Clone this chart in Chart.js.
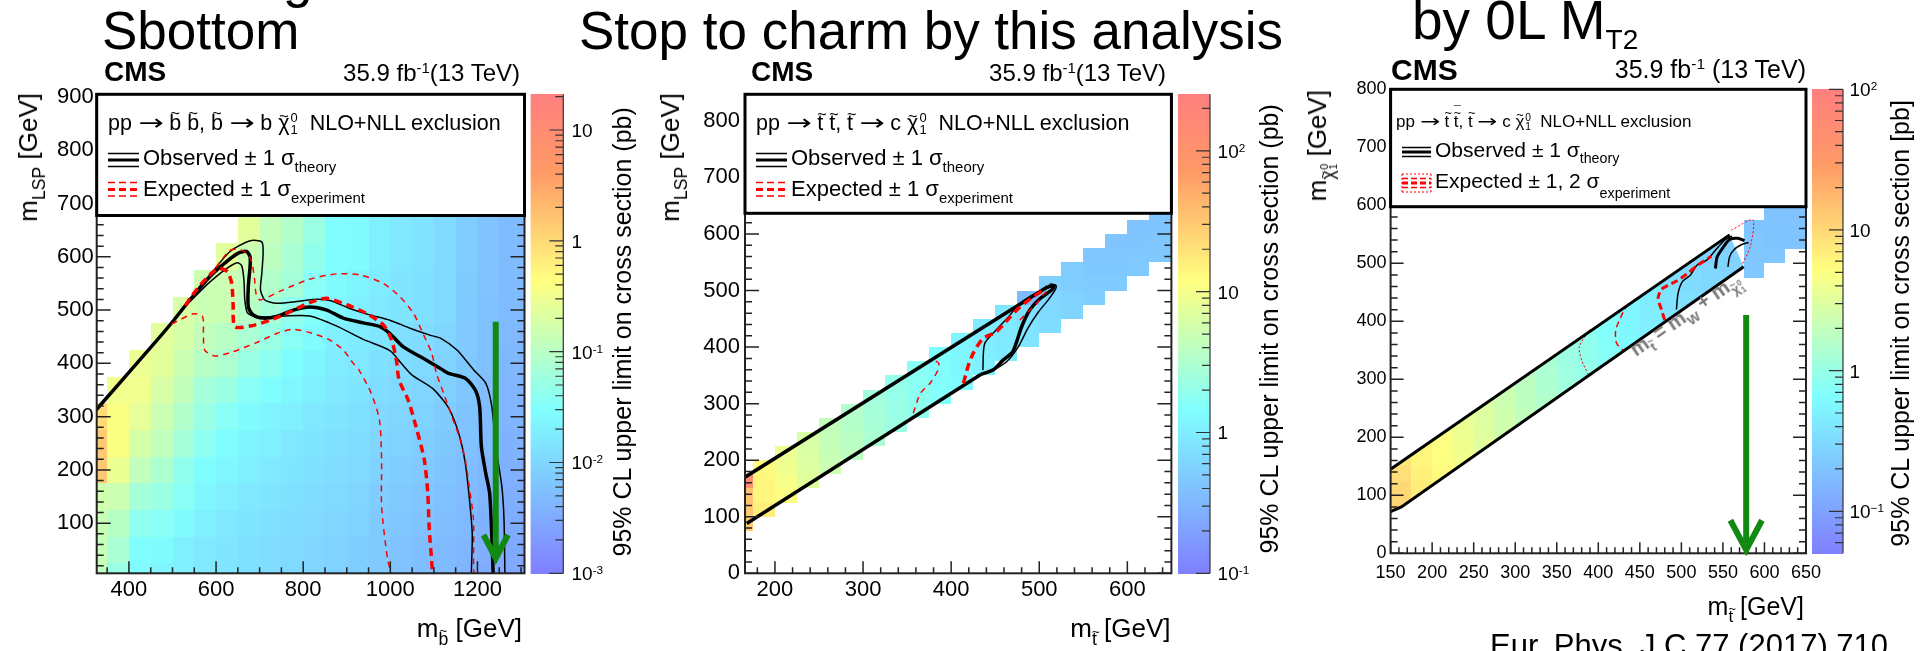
<!DOCTYPE html>
<html>
<head>
<meta charset="utf-8">
<title>Sbottom / stop to charm exclusion limits</title>
<script src="https://cdn.jsdelivr.net/npm/chart.js@4.4.1/dist/chart.umd.min.js"></script>
<style>
  html, body { margin: 0; padding: 0; background: #fff; }
  body { position: relative; width: 1927px; height: 651px; overflow: hidden; font-family: 'Liberation Sans', Arial, Helvetica, sans-serif; }
  canvas { position: absolute; top: 0; }
  .t { position: absolute; white-space: nowrap; line-height: 1; color: #000; }
  .t sub { font-size: 0.68em; vertical-align: -0.45em; line-height: 0; }
  .t sup { font-size: 0.62em; vertical-align: 0.55em; line-height: 0; }
  .t sub.lo { vertical-align: -0.7em; }
  .t sub.big { font-size: 0.51em; vertical-align: -0.36em; }
  .ss { display: inline-block; font-size: 0.6em; line-height: 0.9; vertical-align: -0.3em; margin-left: 0.08em; }
  .ss > span { display: block; }
  .tl { position: relative; display: inline-block; line-height: 1; }
  .tl > i { position: absolute; left: 0; right: 0; text-align: center; font-style: normal; font-size: 0.75em; }
  .tb > i { top: -0.51em; }
  .tt > i { top: -0.45em; }
  .tx > i { top: -0.29em; }
  .tl > i.bar { top: -0.62em; }
  .ar { font-family: 'DejaVu Sans', sans-serif; display: inline-block; transform: scaleX(1.4); margin: 0 0.17em; }
</style>
</head>
<body>
<canvas id="c1" width="660" height="651" style="left:0px"></canvas>
<canvas id="c2" width="640" height="651" style="left:660px"></canvas>
<canvas id="c3" width="627" height="651" style="left:1300px"></canvas>
<script>
const FONT = "'Liberation Sans', Arial, Helvetica, sans-serif";

// ---------- left: sbottom -> b chi10 ----------
const SB_MSB = [300, 350, 400, 450, 500, 550, 600, 650, 700, 750, 800, 850, 900, 950, 1000, 1050, 1100, 1150, 1200, 1250, 1300];
const SB_MLSP = [-25, 25, 75, 125, 175, 225, 275, 325, 375, 425, 475, 525, 575, 625];
const SB_XSEC = [
  [0.12, 0.13, 0.14, 0.16, 1.5, 1.5, 1.0],
  [0.053, 0.072, 0.097, 0.145, 0.29, 0.39, 0.39, 0.32],
  [0.027, 0.029, 0.040, 0.065, 0.12, 0.18, 0.26, 0.32, 0.29],
  [0.022, 0.027, 0.036, 0.053, 0.079, 0.12, 0.145, 0.19, 0.24, 0.24],
  [0.020, 0.020, 0.027, 0.036, 0.044, 0.065, 0.088, 0.12, 0.145, 0.18, 0.19],
  [0.016, 0.016, 0.020, 0.024, 0.029, 0.040, 0.053, 0.065, 0.097, 0.12, 0.145, 0.145],
  [0.015, 0.015, 0.016, 0.020, 0.024, 0.029, 0.036, 0.053, 0.079, 0.097, 0.145, 0.145, 0.24],
  [0.013, 0.013, 0.015, 0.016, 0.020, 0.022, 0.027, 0.036, 0.053, 0.072, 0.097, 0.12, 0.145, 0.24],
  [0.012, 0.012, 0.013, 0.015, 0.016, 0.020, 0.022, 0.029, 0.040, 0.053, 0.065, 0.088, 0.11, 0.12],
  [0.011, 0.011, 0.012, 0.013, 0.015, 0.016, 0.020, 0.024, 0.029, 0.036, 0.044, 0.065, 0.072, 0.088],
  [0.0099, 0.0099, 0.011, 0.012, 0.013, 0.015, 0.016, 0.020, 0.022, 0.027, 0.033, 0.036, 0.044, 0.053],
  [0.0089, 0.0089, 0.0099, 0.011, 0.012, 0.013, 0.015, 0.016, 0.018, 0.020, 0.024, 0.027, 0.029, 0.029],
  [0.0081, 0.0081, 0.0089, 0.0099, 0.011, 0.012, 0.013, 0.015, 0.016, 0.018, 0.020, 0.022, 0.027, 0.027],
  [0.0073, 0.0073, 0.0073, 0.0081, 0.0089, 0.0099, 0.011, 0.012, 0.013, 0.015, 0.016, 0.018, 0.020, 0.020],
  [0.0060, 0.0060, 0.0066, 0.0073, 0.0081, 0.0089, 0.0099, 0.011, 0.012, 0.013, 0.015, 0.015, 0.016, 0.016],
  [0.0054, 0.0054, 0.0060, 0.0066, 0.0073, 0.0081, 0.0089, 0.0099, 0.011, 0.012, 0.013, 0.013, 0.014, 0.014],
  [0.0047, 0.0048, 0.0052, 0.0058, 0.0064, 0.0070, 0.0077, 0.0085, 0.0093, 0.010, 0.011, 0.011, 0.011, 0.011],
  [0.0040, 0.0042, 0.0046, 0.0050, 0.0054, 0.0058, 0.0062, 0.0066, 0.0070, 0.0073, 0.0075, 0.0077, 0.0078, 0.0078],
  [0.0033, 0.0035, 0.0038, 0.0041, 0.0044, 0.0047, 0.0050, 0.0053, 0.0056, 0.0058, 0.0059, 0.0060, 0.0060, 0.0060],
  [0.0030, 0.0031, 0.0033, 0.0035, 0.0037, 0.0039, 0.0041, 0.0043, 0.0045, 0.0046, 0.0047, 0.0048, 0.0049, 0.0049],
  [0.0027, 0.0028, 0.0030, 0.0032, 0.0034, 0.0036, 0.0038, 0.0040, 0.0042, 0.0043, 0.0044, 0.0045, 0.0046, 0.0046]
];
const SB_X_TICKS = [400, 600, 800, 1000, 1200];
const SB_Y_TICKS = [100, 200, 300, 400, 500, 600, 700, 800, 900];
const SB_Z_TICKS = [10, 1, 0.1, 0.01, 0.001];
const SB_Z_LABELS = ['10', '1', '10<sup>-1</sup>', '10<sup>-2</sup>', '10<sup>-3</sup>'];
const SB_OBS = [[325, 313], [448, 428], [494, 472], [540, 519], [586, 563], [624, 591], [651, 607], [670, 610], [678, 600], [678, 581], [674, 544], [674, 506], [685, 491], [708, 485], [739, 488], [777, 500], [815, 506], [854, 500], [892, 485], [938, 476], [976, 469], [999, 456], [1030, 431], [1083, 406], [1114, 391], [1134, 381], [1172, 372], [1195, 350], [1205, 319], [1209, 244], [1219, 194], [1228, 156], [1233, 75], [1236, 6]];
const SB_OBS_UP = [[560, 542], [586, 566], [632, 610], [678, 630], [705, 628], [708, 607], [705, 569], [702, 538], [712, 519], [739, 513], [785, 516], [823, 520], [861, 518], [907, 503], [953, 491], [999, 481], [1045, 466], [1091, 453], [1116, 447], [1153, 425], [1191, 388], [1219, 363], [1233, 319], [1242, 244], [1256, 169], [1261, 106], [1263, 6]];
const SB_OBS_DN = [[540, 516], [586, 553], [624, 578], [649, 589], [659, 583], [664, 556], [666, 519], [672, 495], [693, 487], [754, 489], [815, 489], [877, 470], [938, 445], [999, 424], [1025, 400], [1050, 378], [1097, 353], [1134, 316], [1158, 266], [1172, 213], [1181, 150], [1188, 81], [1186, 6]];
const SB_EXP = [[530, 508], [540, 522], [578, 560], [605, 578], [626, 572], [636, 550], [639, 513], [643, 469], [678, 470], [724, 481], [770, 497], [815, 514], [854, 522], [900, 510], [945, 494], [984, 472], [1003, 444], [1014, 406], [1020, 369], [1041, 331], [1059, 281], [1078, 219], [1086, 156], [1089, 94], [1097, 6]];
const SB_EXP_UP = [[585, 563], [632, 612], [660, 612], [680, 595], [688, 560], [692, 530], [701, 519], [754, 538], [815, 558], [877, 568], [930, 566], [984, 550], [1022, 525], [1053, 494], [1075, 456], [1095, 419], [1106, 381], [1125, 338], [1144, 294], [1158, 263], [1172, 219], [1181, 169], [1191, 106], [1191, 31], [1192, 6]];
const SB_EXP_DN = [[498, 474], [548, 493], [569, 488], [571, 456], [574, 425], [597, 414], [639, 422], [693, 439], [739, 456], [777, 464], [823, 456], [861, 444], [892, 425], [915, 400], [928, 388], [956, 344], [975, 294], [980, 219], [980, 131], [994, 31], [1003, 6]];

// ---------- middle: stop -> c chi10 (this analysis) ----------
const ST_MSTOP = [150, 175, 200, 225, 250, 275, 300, 325, 350, 375, 400, 425, 450, 475, 500, 525, 550, 575, 600, 625];
const ST_DM = [75, 50, 25, 0];
const ST_XSEC = [
  [30, 32, 35, 130], [16, 14, 14, 13], [11, 10, 9, 8.5], [7, 6.8, 6.5, 6.2], [5, 4.8, 4.6, 4.4],
  [3.9, 3.7, 3.5, 3.4], [3.0, 2.8, 2.7, 2.6], [2.3, 2.2, 2.1, 2.0], [1.9, 1.8, 1.75, 1.7], [1.55, 1.5, 1.45, 1.4],
  [1.3, 1.25, 1.2, 1.15], [1.1, 1.05, 1.0, 0.95], [0.95, 0.9, 0.88, 0.85], [0.85, 0.8, 0.75, 0.35], [0.7, 0.66, 0.62, 0.55],
  [0.6, 0.56, 0.52, 0.5], [0.5, 0.48, 0.46, 0.45], [0.48, 0.46, 0.44, 0.43], [0.47, 0.45, 0.43, 0.42], [0.46, 0.44, 0.42, 0.41]
];
const ST_X_TICKS = [200, 300, 400, 500, 600];
const ST_Y_TICKS = [0, 100, 200, 300, 400, 500, 600, 700, 800];
const ST_Z_TICKS = [100, 10, 1, 0.1];
const ST_Z_LABELS = ['10<sup>2</sup>', '10', '1', '10<sup>-1</sup>'];
const ST_UP = [[166, 170], [510, 507]];
const ST_LO = [[168, 88], [434, 352]];
const ST_OBS = [[510, 507], [517, 509], [514, 501], [501, 486], [489, 465], [480, 436], [470, 392], [459, 377], [448, 360], [434, 352]];
const ST_OBS_A = [[436, 359], [438, 406], [451, 430], [465, 453], [474, 471], [489, 489], [506, 502], [516, 508]];
const ST_OBS_B = [[451, 362], [463, 374], [476, 400], [487, 433], [499, 462], [510, 483], [518, 501], [519, 509], [512, 512]];
const ST_EXP = [[414, 336], [419, 365], [425, 389], [436, 415], [451, 427], [467, 453], [478, 471], [493, 489], [506, 502]];
const ST_EXP_A = [[357, 283], [365, 318], [376, 336], [385, 359], [386, 371], [382, 376]];
const ST_EXP_B = [[478, 448], [487, 462], [497, 477], [506, 495], [512, 505]];

// ---------- right: stop -> c chi10 by 0L MT2 ----------
const MT_MSTOP = [150, 175, 200, 225, 250, 275, 300, 325, 350, 375, 400, 425, 450, 475, 500, 525, 550, 575, 600, 625];
const MT_DM = [100, 75, 50, 25, 0];
const MT_XSEC = [
  [10, 10, 10, 9, 8], [7, 7, 6.5, 6, 6], [5.5, 5.5, 5, 5, 4.8], [4.2, 4.2, 4, 3.8, 3.6], [3.3, 3.2, 3.1, 3, 2.9],
  [2.6, 2.5, 2.4, 2.3, 2.2], [2.0, 1.9, 1.8, 1.8, 1.7], [1.5, 1.5, 1.4, 1.4, 1.3], [1.2, 1.15, 1.1, 1.05, 1.0], [0.95, 0.92, 0.9, 0.88, 0.85],
  [0.78, 0.75, 0.72, 0.7, 0.68], [0.62, 0.6, 0.58, 0.56, 0.55], [0.5, 0.48, 0.47, 0.45, 0.44], [0.42, 0.4, 0.38, 0.37, 0.36], [0.36, 0.34, 0.33, 0.32, 0.31],
  [0.32, 0.3, 0.29, 0.28, 0.28], [0.3, 0.28, 0.27, 0.26, 0.26], [0.22, 0.21, 0.21, 0.2], [0.21, 0.2, 0.2, 0.2], [0.2, 0.2, 0.19, 0.19]
];
const MT_BAND_END = 575;
const MT_X_TICKS = [150, 200, 250, 300, 350, 400, 450, 500, 550, 600, 650];
const MT_Y_TICKS = [0, 100, 200, 300, 400, 500, 600, 700, 800];
const MT_Z_TICKS = [100, 10, 1, 0.1];
const MT_Z_LABELS = ['10<sup>2</sup>', '10', '1', '10<sup>\u22121</sup>'];
const MT_UP = [[150, 145], [558, 549]];
const MT_LO = [[150, 72], [163, 80], [575, 494]];
const MT_OBS = [[541, 491], [543, 511], [551, 529], [558, 541], [568, 543], [576, 539]];
const MT_OBS_A = [[494, 420], [496, 448], [501, 468], [511, 480], [519, 497], [531, 506], [543, 526], [553, 541], [561, 547]];
const MT_OBS_B = [[556, 494], [558, 511], [563, 523], [572, 532], [581, 536]];
const MT_EXP = [[480, 402], [476, 420], [472, 440], [476, 455], [484, 462], [495, 470], [506, 481], [520, 497], [536, 512]];
const MT_EXP_1 = [[436, 430], [430, 416], [421, 385], [422, 362], [430, 350]];
const MT_EXP_2A = [[390, 386], [377, 356], [380, 333], [388, 308]];
const MT_EXP_2B = [[560, 557], [586, 575], [583, 529], [573, 497]];

// CMS SUSY palette
const PAL_STOPS = [0, 0.34, 0.61, 0.84, 1];
const PAL_R = [0.5, 0.5, 1, 1, 1];
const PAL_G = [0.5, 1, 1, 0.6, 0.5];
const PAL_B = [1, 1, 0.5, 0.4, 0.5];
function palette(t) {
  t = Math.min(1, Math.max(0, t));
  let i = 0;
  while (i < PAL_STOPS.length - 2 && t > PAL_STOPS[i + 1]) i++;
  const f = (t - PAL_STOPS[i]) / (PAL_STOPS[i + 1] - PAL_STOPS[i]);
  const c = a => Math.round(255 * (a[i] + (a[i + 1] - a[i]) * f));
  return `rgb(${c(PAL_R)},${c(PAL_G)},${c(PAL_B)})`;
}
function zColor(z, v) {
  return palette((z.bottom - z.getPixelForValue(v)) / (z.bottom - z.top));
}

function sbCells() {
  const cells = [];
  SB_MSB.forEach((m, i) => SB_XSEC[i].forEach((v, j) =>
    cells.push({ x0: m, x1: m + 50, y0: SB_MLSP[j], y1: SB_MLSP[j] + 50, v })));
  return cells;
}
function stCells() {
  const cells = [];
  ST_MSTOP.forEach((m, i) => ST_XSEC[i].forEach((v, j) =>
    cells.push({ x0: m, x1: m + 25, y0: m - ST_DM[j], y1: m - ST_DM[j] + 25, v })));
  return cells;
}
function mtCells() {
  const cells = [];
  MT_MSTOP.forEach((m, i) => MT_XSEC[i].forEach((v, j) =>
    cells.push({ x0: m, x1: m + 25, y0: m - MT_DM[j], y1: m - MT_DM[j] + 25, v, clip: m < MT_BAND_END })));
  return cells;
}

const BLK = '#000', RED = '#ff0000';
const PANELS = [
  {
    id: 'c1', left: 0, pad: { left: 0, top: 94.3, right: 135.5, bottom: 0 }, yW: 96.7, xH: 77.7, tickFont: 22,
    x: { min: 326, max: 1308, major: SB_X_TICKS, minor: 50, pad: 3 },
    y: { min: 6, max: 905, major: SB_Y_TICKS, minor: 20, pad: 3 },
    len: { xMaj: 12, xMin: 6, yMaj: 14, yMin: 7 },
    z: { min: 0.001, max: 21, ticks: SB_Z_TICKS, labels: SB_Z_LABELS },
    cb: { gap: 6.1, width: 32.7, labelDx: 47 },
    legendBottom: 215.5,
    cells: sbCells(),
    lines: [
      { pts: SB_EXP_UP, color: RED, width: 1.5, dash: [6, 5] },
      { pts: SB_EXP_DN, color: RED, width: 1.5, dash: [6, 5] },
      { pts: SB_EXP, color: RED, width: 3.5, dash: [8, 5] },
      { pts: SB_OBS_UP, color: BLK, width: 1.5 },
      { pts: SB_OBS_DN, color: BLK, width: 1.5 },
      { pts: SB_OBS, color: BLK, width: 3.5 }
    ],
    sym: { x0: 108, x1: 139, lines: [[153.5, 1.5, BLK], [160, 3, BLK], [166.5, 1.5, BLK], [182.5, 1.5, RED, [7, 4]], [189.5, 3, RED, [7, 4]], [196, 1.5, RED, [7, 4]]] },
    arrow: { x: 1242, top: 478, tip: 34, wing: 78, half: 28, w: 6 }
  },
  {
    id: 'c2', left: 660, pad: { left: 0, top: 94.3, right: 128.6, bottom: 0 }, yW: 85, xH: 77.7, tickFont: 22,
    x: { min: 166, max: 650, major: ST_X_TICKS, minor: 20, pad: 3 },
    y: { min: 0, max: 847, major: ST_Y_TICKS, minor: 20, pad: 5 },
    len: { xMaj: 12, xMin: 6, yMaj: 14, yMin: 7 },
    z: { min: 0.1, max: 252, ticks: ST_Z_TICKS, labels: ST_Z_LABELS },
    cb: { gap: 6.6, width: 32, labelDx: 46.2 },
    legendBottom: 213.3,
    cells: stCells(),
    lines: [
      { pts: ST_EXP_A, color: RED, width: 1.5, dash: [6, 5] },
      { pts: ST_EXP_B, color: RED, width: 1.5, dash: [6, 5] },
      { pts: ST_EXP, color: RED, width: 3.5, dash: [8, 5] },
      { pts: ST_OBS_A, color: BLK, width: 1.5 },
      { pts: ST_OBS_B, color: BLK, width: 1.5 },
      { pts: ST_UP, color: BLK, width: 3.5, tension: 0 },
      { pts: ST_LO, color: BLK, width: 3.5, tension: 0 },
      { pts: ST_OBS, color: BLK, width: 3.5 }
    ],
    sym: { x0: 756, x1: 787, lines: [[153.5, 1.5, BLK], [160, 3, BLK], [166.5, 1.5, BLK], [182.5, 1.5, RED, [7, 4]], [189.5, 3, RED, [7, 4]], [196, 1.5, RED, [7, 4]]] }
  },
  {
    id: 'c3', left: 1300, pad: { left: 0, top: 89.3, right: 121, bottom: 0 }, yW: 90.6, xH: 97.7, tickFont: 18,
    x: { min: 150, max: 650, major: MT_X_TICKS, minor: 10, pad: 9 },
    y: { min: 0, max: 800, major: MT_Y_TICKS, minor: 20, pad: 4 },
    len: { xMaj: 11, xMin: 6, yMaj: 13, yMin: 7 },
    z: { min: 0.0503, max: 100, ticks: MT_Z_TICKS, labels: MT_Z_LABELS },
    cb: { gap: 6, width: 31, labelDx: 43.5 },
    legendBottom: 206.7,
    cells: mtCells(),
    band: MT_UP.concat(MT_LO.slice().reverse()),
    lines: [
      { pts: MT_UP, color: BLK, width: 3, tension: 0 },
      { pts: MT_LO, color: BLK, width: 3, tension: 0 },
      { pts: MT_UP, color: '#c00000', width: 1.2, tension: 0 },
      { pts: MT_LO, color: '#e00000', width: 1.2, dash: [2, 2], tension: 0 },
      { pts: MT_EXP_2A, color: RED, width: 1, dash: [2, 2] },
      { pts: MT_EXP_2B, color: RED, width: 1, dash: [2, 2] },
      { pts: MT_EXP_1, color: RED, width: 1.5, dash: [6, 4] },
      { pts: MT_EXP, color: RED, width: 3, dash: [7, 4] },
      { pts: MT_OBS_A, color: BLK, width: 1.5 },
      { pts: MT_OBS_B, color: BLK, width: 1.5 },
      { pts: MT_OBS, color: BLK, width: 3 }
    ],
    sym: { x0: 1402, x1: 1431, box: [174, 192], lines: [[147.5, 1.5, BLK], [152, 3, BLK], [156.5, 1.5, BLK], [174, 1, RED, [2, 2]], [192, 1, RED, [2, 2]], [178.5, 1.5, RED, [6, 3]], [183, 3, RED, [6, 3]], [187.5, 1.5, RED, [6, 3]]] },
    arrow: { x: 578, top: 411, tip: 6, wing: 57, half: 19, w: 6 }
  }
];

function makeHeatmap(p) {
  return {
    id: 'heatmap',
    beforeDatasetsDraw(chart) {
      const { ctx, chartArea: a } = chart;
      const { x, y, z } = chart.scales;
      ctx.save();
      ctx.beginPath();
      ctx.rect(a.left, a.top, a.width, a.height);
      ctx.clip();
      p.cells.forEach(c => {
        ctx.save();
        if (c.clip && p.band) {
          ctx.beginPath();
          p.band.forEach(([vx, vy], i) => {
            const px = x.getPixelForValue(vx), py = y.getPixelForValue(vy);
            if (i) ctx.lineTo(px, py); else ctx.moveTo(px, py);
          });
          ctx.closePath();
          ctx.clip();
        }
        const l = Math.round(x.getPixelForValue(c.x0)), r = Math.round(x.getPixelForValue(c.x1));
        const t = Math.round(y.getPixelForValue(c.y1)), b = Math.round(y.getPixelForValue(c.y0));
        ctx.fillStyle = zColor(z, c.v);
        ctx.fillRect(l, t, r - l, b - t);
        ctx.restore();
      });
      ctx.restore();
    }
  };
}

function makeDeco(p) {
  return {
    id: 'deco',
    afterDatasetsDraw(chart) {
      const { ctx, chartArea: a } = chart;
      const { x, y, z } = chart.scales;
      ctx.save();
      ctx.setLineDash([]);
      // frame
      ctx.strokeStyle = '#222';
      ctx.lineWidth = 2;
      ctx.strokeRect(a.left, a.top, a.width, a.height);
      // inward ticks, ROOT style
      ctx.lineWidth = 1.5;
      ctx.beginPath();
      for (let v = Math.ceil(p.x.min / p.x.minor) * p.x.minor; v <= p.x.max; v += p.x.minor) {
        const px = x.getPixelForValue(v), len = p.x.major.includes(v) ? p.len.xMaj : p.len.xMin;
        ctx.moveTo(px, a.bottom);
        ctx.lineTo(px, a.bottom - len);
      }
      for (let v = Math.ceil(p.y.min / p.y.minor) * p.y.minor; v <= p.y.max; v += p.y.minor) {
        const py = y.getPixelForValue(v), len = p.y.major.includes(v) ? p.len.yMaj : p.len.yMin;
        ctx.moveTo(a.left, py); ctx.lineTo(a.left + len, py);
        ctx.moveTo(a.right, py); ctx.lineTo(a.right - len, py);
      }
      ctx.stroke();

      // legend box
      const lb = p.legendBottom;
      ctx.fillStyle = '#fff';
      ctx.fillRect(a.left, a.top, a.width, lb - a.top);
      ctx.strokeStyle = '#000';
      ctx.lineWidth = 3;
      ctx.strokeRect(a.left, a.top, a.width, lb - a.top);
      const s = p.sym, sx0 = s.x0 - p.left, sx1 = s.x1 - p.left;
      s.lines.forEach(([ly, w, color, dash]) => {
        ctx.strokeStyle = color;
        ctx.lineWidth = w;
        ctx.setLineDash(dash || []);
        ctx.beginPath();
        ctx.moveTo(sx0, ly);
        ctx.lineTo(sx1, ly);
        ctx.stroke();
      });
      if (s.box) {
        ctx.strokeStyle = RED; ctx.lineWidth = 1; ctx.setLineDash([2, 2]);
        ctx.beginPath();
        ctx.moveTo(sx0, s.box[0]); ctx.lineTo(sx0, s.box[1]);
        ctx.moveTo(sx1, s.box[0]); ctx.lineTo(sx1, s.box[1]);
        ctx.stroke();
      }
      ctx.setLineDash([]);

      // green arrow
      if (p.arrow) {
        const ar = p.arrow;
        const ax = x.getPixelForValue(ar.x), top = y.getPixelForValue(ar.top), tip = y.getPixelForValue(ar.tip);
        const wy = y.getPixelForValue(ar.wing), wl = x.getPixelForValue(ar.x - ar.half), wr = x.getPixelForValue(ar.x + ar.half);
        ctx.strokeStyle = '#128a12';
        ctx.lineWidth = ar.w;
        ctx.lineJoin = 'miter';
        ctx.beginPath();
        ctx.moveTo(ax, top); ctx.lineTo(ax, tip - 3);
        ctx.moveTo(wl, wy); ctx.lineTo(ax, tip); ctx.lineTo(wr, wy);
        ctx.stroke();
      }

      // colour bar
      const cl = a.right + p.cb.gap, cw = p.cb.width, cr = cl + cw;
      for (let py = Math.floor(z.top); py < Math.ceil(z.bottom); py++) {
        ctx.fillStyle = zColor(z, z.getValueForPixel(py + 0.5));
        ctx.fillRect(cl, py, cw, 1);
      }
      ctx.strokeStyle = '#333';
      ctx.lineWidth = 1.2;
      ctx.beginPath();
      ctx.moveTo(cr, z.top); ctx.lineTo(cr, z.bottom);
      const e0 = Math.floor(Math.log10(p.z.min)), e1 = Math.ceil(Math.log10(p.z.max));
      for (let e = e0; e <= e1; e++) {
        for (let k = 1; k <= 9; k++) {
          const v = k * Math.pow(10, e);
          if (v < p.z.min * 0.999 || v > p.z.max) continue;
          const py = z.getPixelForValue(v);
          ctx.moveTo(cr, py);
          ctx.lineTo(cr - (k === 1 ? 14 : 8), py);
        }
      }
      ctx.stroke();
      ctx.restore();
    }
  };
}

function buildPanel(p) {
  const axis = (ax, horizontal) => ({
    type: 'linear', min: ax.min, max: ax.max,
    afterFit: s => { if (horizontal) s.height = p.xH; else s.width = p.yW; },
    afterBuildTicks: s => { s.ticks = ax.major.map(v => ({ value: v })); },
    grid: { display: false, drawTicks: false },
    border: { display: false },
    ticks: { autoSkip: false, maxRotation: 0, padding: ax.pad, color: '#000', font: { family: FONT, size: p.tickFont }, callback: v => String(v) }
  });
  return new Chart(document.getElementById(p.id), {
    type: 'scatter',
    data: {
      datasets: p.lines.map(l => ({
        data: l.pts.map(([x, y]) => ({ x, y })),
        showLine: true, pointRadius: 0, fill: false,
        borderColor: l.color, borderWidth: l.width, borderDash: l.dash || [],
        tension: l.tension === undefined ? 0.25 : l.tension
      }))
    },
    options: {
      responsive: false, animation: false, devicePixelRatio: 1,
      layout: { padding: p.pad },
      plugins: { legend: { display: false }, tooltip: { enabled: false } },
      scales: {
        x: axis(p.x, true),
        y: axis(p.y, false),
        z: { type: 'logarithmic', display: false, position: 'right', min: p.z.min, max: p.z.max }
      }
    },
    plugins: [makeHeatmap(p), makeDeco(p)]
  });
}

// text overlay; (x, y) is the baseline start (or end, with o.end)
function txt(html, x, y, size, o = {}) {
  const d = document.createElement('div');
  d.className = 't';
  d.innerHTML = html;
  const asc = 0.8465 * size;
  d.style.left = x + 'px';
  d.style.top = (y - asc) + 'px';
  d.style.fontSize = size + 'px';
  d.style.transformOrigin = `0 ${asc}px`;
  const tf = [];
  if (o.rot) tf.push(`rotate(${o.rot}deg)`);
  if (o.end) tf.push('translateX(-100%)');
  if (tf.length) d.style.transform = tf.join(' ');
  if (o.bold) d.style.fontWeight = 'bold';
  if (o.color) d.style.color = o.color;
  document.body.appendChild(d);
}

const charts = PANELS.map(buildPanel);

// colour bar labels from the z scales
PANELS.forEach((p, i) => {
  const ch = charts[i], z = ch.scales.z;
  p.z.labels.forEach((lab, k) => txt(lab, p.left + ch.chartArea.right + p.cb.labelDx, z.getPixelForValue(p.z.ticks[k]) + 7, 19));
});

const tl = (ch, cls) => `<span class="tl ${cls}">${ch}<i>~</i></span>`;
const bT = tl('b', 'tb'), tT = tl('t', 'tt'), chiT = tl('\u03c7', 'tx');
const tTbar = `<span class="tl tt">t<i>~</i><i class="bar">\u00af</i></span>`;
const CHI10 = chiT + '<span class="ss"><span>0</span><span>1</span></span>';
const AR = '<span class="ar">\u2192</span>';

// slide titles
txt('g', 283, -3, 53);
txt('Sbottom', 102, 49, 53);
txt('Stop to charm by this analysis', 579, 49, 53);
txt('by 0L M<sub class="big">T2</sub>', 1412, 40, 55);
txt('Eur. Phys. J.C 77 (2017) 710', 1490, 656, 31);

// CMS / lumi labels
txt('CMS', 104, 82, 28, { bold: true });
txt('35.9 fb<sup>-1</sup>(13 TeV)', 520, 81, 24, { end: true });
txt('CMS', 751, 82, 28, { bold: true });
txt('35.9 fb<sup>-1</sup>(13 TeV)', 1166, 81, 24, { end: true });
txt('CMS', 1391, 80, 30, { bold: true });
txt('35.9 fb<sup>-1</sup> (13 TeV)', 1806, 78, 25, { end: true });

// legends
txt(`pp ${AR} ${bT} ${bT}, ${bT} ${AR} b ${CHI10}&nbsp;&nbsp;NLO+NLL exclusion`, 108, 130, 21.5);
txt('Observed \u00b1 1 \u03c3<sub>theory</sub>', 143, 166, 22);
txt('Expected \u00b1 1 \u03c3<sub>experiment</sub>', 143, 197, 22);
txt(`pp ${AR} ${tT} ${tT}, ${tT} ${AR} c ${CHI10}&nbsp;&nbsp;NLO+NLL exclusion`, 756, 130, 21.5);
txt('Observed \u00b1 1 \u03c3<sub>theory</sub>', 791, 166, 22);
txt('Expected \u00b1 1 \u03c3<sub>experiment</sub>', 791, 197, 22);
txt(`pp ${AR} ${tT} ${tTbar}, ${tT} ${AR} c ${CHI10}&nbsp;&nbsp;NLO+NLL exclusion`, 1396, 127, 17);
txt('Observed \u00b1 1 \u03c3<sub>theory</sub>', 1435, 157, 21);
txt('Expected \u00b1 1, 2 \u03c3<sub class="lo">experiment</sub>', 1435, 188, 21);

// axis titles
txt('m<sub>LSP</sub> [GeV]', 37.4, 93, 26, { rot: -90, end: true });
txt('m<sub>LSP</sub> [GeV]', 679.4, 93, 26, { rot: -90, end: true });
txt(`m<sub>${CHI10}</sub> [GeV]`, 1325.8, 90, 26, { rot: -90, end: true });
txt(`m<sub>${bT}</sub> [GeV]`, 522, 637, 26, { end: true });
txt(`m<sub>${tT}</sub> [GeV]`, 1170.6, 637, 26, { end: true });
txt(`m<sub>${tT}</sub> [GeV]`, 1804, 615, 25, { end: true });
txt('95% CL upper limit on cross section (pb)', 631, 107, 25, { rot: -90, end: true });
txt('95% CL upper limit on cross section (pb)', 1277.7, 104, 25, { rot: -90, end: true });
txt('95% CL upper limit on cross section [pb]', 1909.3, 100, 25, { rot: -90, end: true });

// kinematic boundary label
txt(`m<sub>${tT}</sub> = m<sub>W</sub> + m<sub>${CHI10}</sub>`, 1636, 357, 20, { rot: -34.9, bold: true, color: '#7a7a7a' });
</script>
</body>
</html>
